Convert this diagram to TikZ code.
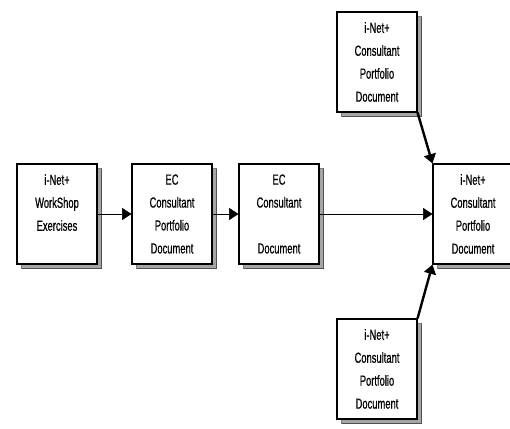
\documentclass[tikz,border=0pt]{standalone}
\usepackage{fontspec}
\usepackage{tikz}
\usetikzlibrary{arrows.meta,shadows}
\newfontfamily\boxfont[FakeStretch=0.64,FakeBold=0.6]{Liberation Sans}

\begin{document}
\begin{tikzpicture}[x=0.75pt,y=-0.75pt]
  \useasboundingbox (0,0) rectangle (510,428);
  \tikzstyle{doc}=[rectangle,draw,thick,fill=white,minimum width=60pt,minimum height=75pt,
    align=center,font=\boxfont\fontsize{11}{17.2}\selectfont,
    drop shadow={shadow xshift=3.5pt,shadow yshift=-3.5pt,fill=black!70}]
  \tikzstyle{every path}=[draw,-{Triangle[length=7pt,width=9pt]}]
  \node [doc] (workshop) at (57,214)  {i-Net+\\WorkShop\\Exercises\\\mbox{}};
  \node [doc] (ecport)   at (172,214) {EC\\Consultant\\Portfolio\\Document};
  \node [doc] (ecdoc)    at (279,214) {EC\\Consultant\\\mbox{}\\Document};
  \node [doc] (inet)     at (473,214) {i-Net+\\Consultant\\Portfolio\\Document};
  \node [doc] (inettop)  at (377,62)  {i-Net+\\Consultant\\Portfolio\\Document};
  \node [doc] (inetbot)  at (377,369) {i-Net+\\Consultant\\Portfolio\\Document};
  \draw [thin] (workshop) -- (ecport);
  \draw [thin] (ecport)   -- (ecdoc);
  \draw [thin] (ecdoc)    -- (inet);
  \draw [line width=1.8pt] (inettop.south east) -- (inet.north west);
  \draw [line width=1.8pt] (inetbot.north east) -- (inet.south west);
\end{tikzpicture}
\end{document}
